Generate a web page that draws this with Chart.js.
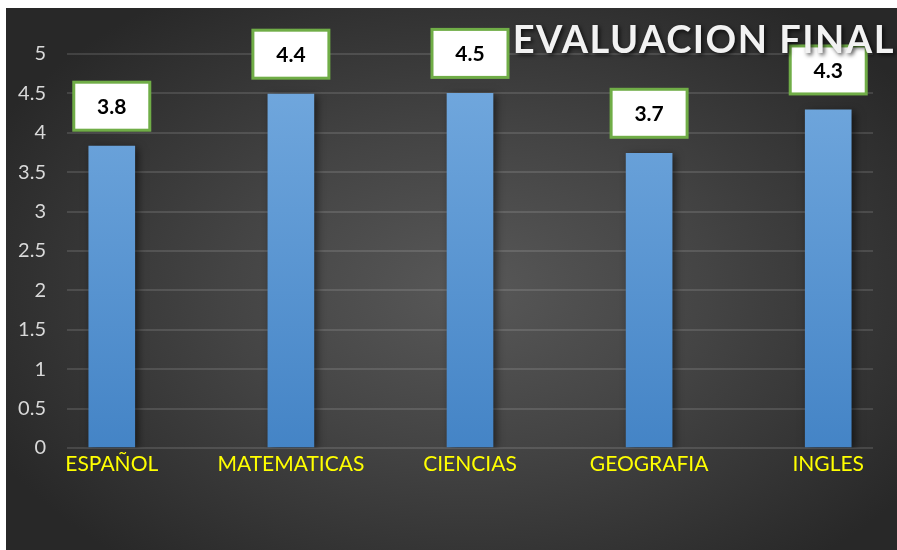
<!DOCTYPE html>
<html>
<head>
<meta charset="utf-8">
<script src="https://cdn.jsdelivr.net/npm/chart.js@4"></script>
<style>
  html, body { margin: 0; padding: 0; background: #fff; }
  #wrap {
    position: absolute; left: 6px; top: 8px; width: 891px; height: 542px;
    background: radial-gradient(ellipse 60% 65% at 52% 52%, #585858 0%, #444 45%, #282828 100%);
  }
</style>
</head>
<body>
<div id="wrap"><canvas id="myChart"></canvas></div>
<script>
const categories = ['ESPAÑOL', 'MATEMATICAS', 'CIENCIAS', 'GEOGRAFIA', 'INGLES'];
const values = [3.83, 4.49, 4.5, 3.74, 4.29];
const dataLabels = ['3.8', '4.4', '4.5', '3.7', '4.3'];
const titleText = 'EVALUACION FINAL';

const FONT = 'Lato, "Open Sans", sans-serif';

// label boxes above bars
const boxLabels = {
  id: 'boxLabels',
  afterDatasetsDraw(chart) {
    const ctx = chart.ctx;
    const meta = chart.getDatasetMeta(0);
    ctx.save();
    meta.data.forEach((bar, i) => {
      const w = 76, h = 48;
      const x = bar.x - w / 2;
      const y = bar.y - 16 - h;
      ctx.fillStyle = '#fff';
      ctx.fillRect(x, y, w, h);
      ctx.strokeStyle = '#70ad47';
      ctx.lineWidth = 3;
      ctx.strokeRect(x, y, w, h);
      ctx.fillStyle = '#000';
      ctx.font = 'bold 21px ' + FONT;
      ctx.textAlign = 'center';
      ctx.textBaseline = 'middle';
      ctx.fillText(dataLabels[i], bar.x, y + h / 2 + 1);
    });
    ctx.restore();
  }
};

const barShadow = {
  id: 'barShadow',
  beforeDatasetsDraw(chart) {
    const ctx = chart.ctx;
    ctx.save();
    ctx.shadowColor = 'rgba(0,0,0,0.55)';
    ctx.shadowBlur = 8;
    ctx.shadowOffsetX = 3;
    ctx.shadowOffsetY = 2;
  },
  afterDatasetsDraw(chart) {
    chart.ctx.restore();
  }
};

const bigTitle = {
  id: 'bigTitle',
  afterDraw(chart) {
    const ctx = chart.ctx;
    ctx.save();
    ctx.font = 'bold 38px ' + FONT;
    ctx.letterSpacing = '1.5px';
    ctx.textAlign = 'right';
    ctx.textBaseline = 'alphabetic';
    ctx.shadowColor = 'rgba(0,0,0,0.7)';
    ctx.shadowBlur = 4;
    ctx.shadowOffsetX = 2;
    ctx.shadowOffsetY = 2;
    ctx.fillStyle = '#f2f2f2';
    ctx.fillText(titleText, 889, 45);
    ctx.restore();
  }
};

const ctx = document.getElementById('myChart').getContext('2d');

new Chart(ctx, {
  type: 'bar',
  data: {
    datasets: [{
      data: values.map((v, i) => ({ x: i, y: v })),
      backgroundColor: (c) => {
        const area = c.chart.chartArea;
        if (!area) return '#5b9bd5';
        const g = c.chart.ctx.createLinearGradient(0, area.top, 0, area.bottom);
        g.addColorStop(0, '#74aadf');
        g.addColorStop(1, '#4484c6');
        return g;
      },
      barThickness: 46,
      borderWidth: 0
    }]
  },
  options: {
    responsive: true,
    maintainAspectRatio: false,
    animation: false,
    layout: { padding: { top: 46, right: 24, bottom: 0, left: 6 } },
    plugins: {
      legend: { display: false },
      tooltip: { enabled: false },
      title: { display: false }
    },
    scales: {
      x: {
        type: 'linear',
        offset: false,
        min: -0.25,
        max: 4.25,
        afterBuildTicks: (scale) => { scale.ticks = categories.map((c, i) => ({ value: i })); },
        afterFit: (scale) => { scale.height = 102; },
        grid: { display: false, drawTicks: false },
        border: { display: false },
        ticks: {
          autoSkip: false,
          maxRotation: 0,
          padding: 4,
          color: '#ffff00',
          font: { family: FONT, size: 21 },
          callback: (v) => categories[v]
        }
      },
      y: {
        min: 0,
        max: 5,
        afterFit: (scale) => { scale.width = 55; },
        grid: { color: 'rgba(255,255,255,0.12)', lineWidth: 2, drawTicks: false },
        border: { display: false },
        ticks: {
          stepSize: 0.5,
          padding: 21,
          color: '#d9d9d9',
          font: { family: FONT, size: 20 },
          callback: (v) => String(v)
        }
      }
    }
  },
  plugins: [barShadow, boxLabels, bigTitle]
});
</script>
</body>
</html>
